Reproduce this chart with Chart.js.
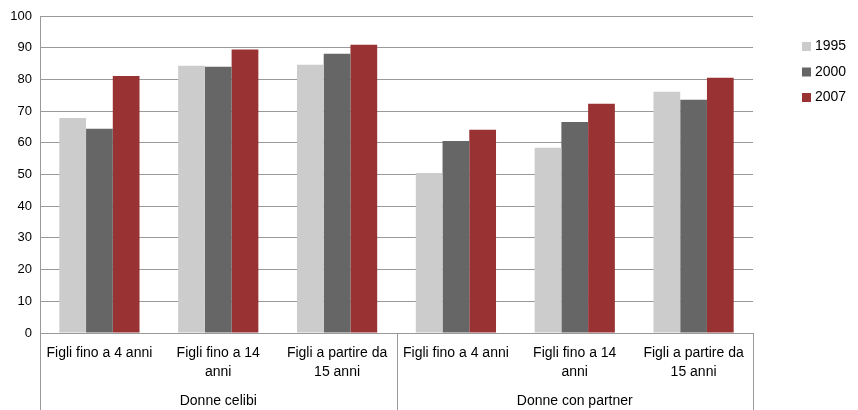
<!DOCTYPE html>
<html>
<head>
<meta charset="utf-8">
<script src="https://cdn.jsdelivr.net/npm/chart.js@4/dist/chart.umd.min.js"></script>
<style>
  html, body { margin: 0; padding: 0; background: #fff; }
  #wrap { width: 858px; height: 410px; }
</style>
</head>
<body>
<div id="wrap"><canvas id="chart"></canvas></div>
<script>
// categories (two levels)
const categories = [
    ["Figli fino a 4 anni"], ["Figli fino a 14", "anni"], ["Figli a partire da", "15 anni"],
    ["Figli fino a 4 anni"], ["Figli fino a 14", "anni"], ["Figli a partire da", "15 anni"]
];
const groups = ["Donne celibi", "Donne con partner"];
const groupSize = 3;

// series values
const years = ["1995", "2000", "2007"];
const values1995 = [67.8, 84.3, 84.6, 50.5, 58.4, 76.1];
const values2000 = [64.4, 84.0, 88.1, 60.6, 66.6, 73.6];
const values2007 = [81.1, 89.4, 90.9, 64.1, 72.3, 80.5];
const colors = ["#cccccc", "#666666", "#993333"];

const FONT = "Liberation Sans, Arial, sans-serif";
const LINE = "#999999";

// group labels, separators and legend
const extras = {
    id: "extras",
    afterDraw(chart) {
        const ctx = chart.ctx;
        const x = chart.scales.x;
        const area = chart.chartArea;
        const step = x.getPixelForValue(1) - x.getPixelForValue(0);
        const bottom = chart.height;

        ctx.save();
        ctx.strokeStyle = LINE;
        ctx.lineWidth = 1;
        for (let g = 0; g <= groups.length; g++) {
            const bx = Math.round(x.getPixelForValue(g * groupSize) - step / 2) + 0.5;
            ctx.beginPath();
            ctx.moveTo(bx, area.bottom);
            ctx.lineTo(bx, bottom);
            ctx.stroke();
        }

        ctx.fillStyle = "#000";
        ctx.font = "14px " + FONT;
        ctx.textAlign = "center";
        ctx.textBaseline = "middle";
        groups.forEach((name, g) => {
            const cx = (x.getPixelForValue(g * groupSize) + x.getPixelForValue(g * groupSize + groupSize - 1)) / 2;
            ctx.fillText(name, cx, 401);
        });

        // legend
        ctx.textAlign = "left";
        chart.data.datasets.forEach((ds, i) => {
            const ly = 46.5 + i * 25.5;
            ctx.fillStyle = ds.backgroundColor;
            ctx.fillRect(802, ly - 4.5, 9, 9);
            ctx.fillStyle = "#000";
            ctx.fillText(ds.label, 815, ly);
        });
        ctx.restore();
    }
};

new Chart(document.getElementById("chart"), {
    type: "bar",
    data: {
        labels: categories,
        datasets: [
            { label: years[0], data: values1995, backgroundColor: colors[0] },
            { label: years[1], data: values2000, backgroundColor: colors[1] },
            { label: years[2], data: values2007, backgroundColor: colors[2] }
        ]
    },
    options: {
        responsive: true,
        maintainAspectRatio: false,
        animation: false,
        layout: { padding: { top: 16, right: 105, left: 0, bottom: 0 } },
        datasets: { bar: { categoryPercentage: 0.675, barPercentage: 1.0 } },
        plugins: { legend: { display: false }, tooltip: { enabled: false } },
        scales: {
            x: {
                grid: { display: false, drawTicks: false },
                border: { display: true, color: LINE },
                ticks: { color: "#000", font: { family: FONT, size: 14, lineHeight: 1.36 }, padding: 11, maxRotation: 0, autoSkip: false },
                afterFit: s => { s.height = 77; }
            },
            y: {
                min: 0,
                max: 100,
                grid: { color: LINE, drawTicks: false },
                border: { display: true, color: LINE },
                ticks: { stepSize: 10, color: "#000", font: { family: FONT, size: 13 }, padding: 8 },
                afterFit: s => { s.width = 40; }
            }
        }
    },
    plugins: [extras]
});
</script>
</body>
</html>
